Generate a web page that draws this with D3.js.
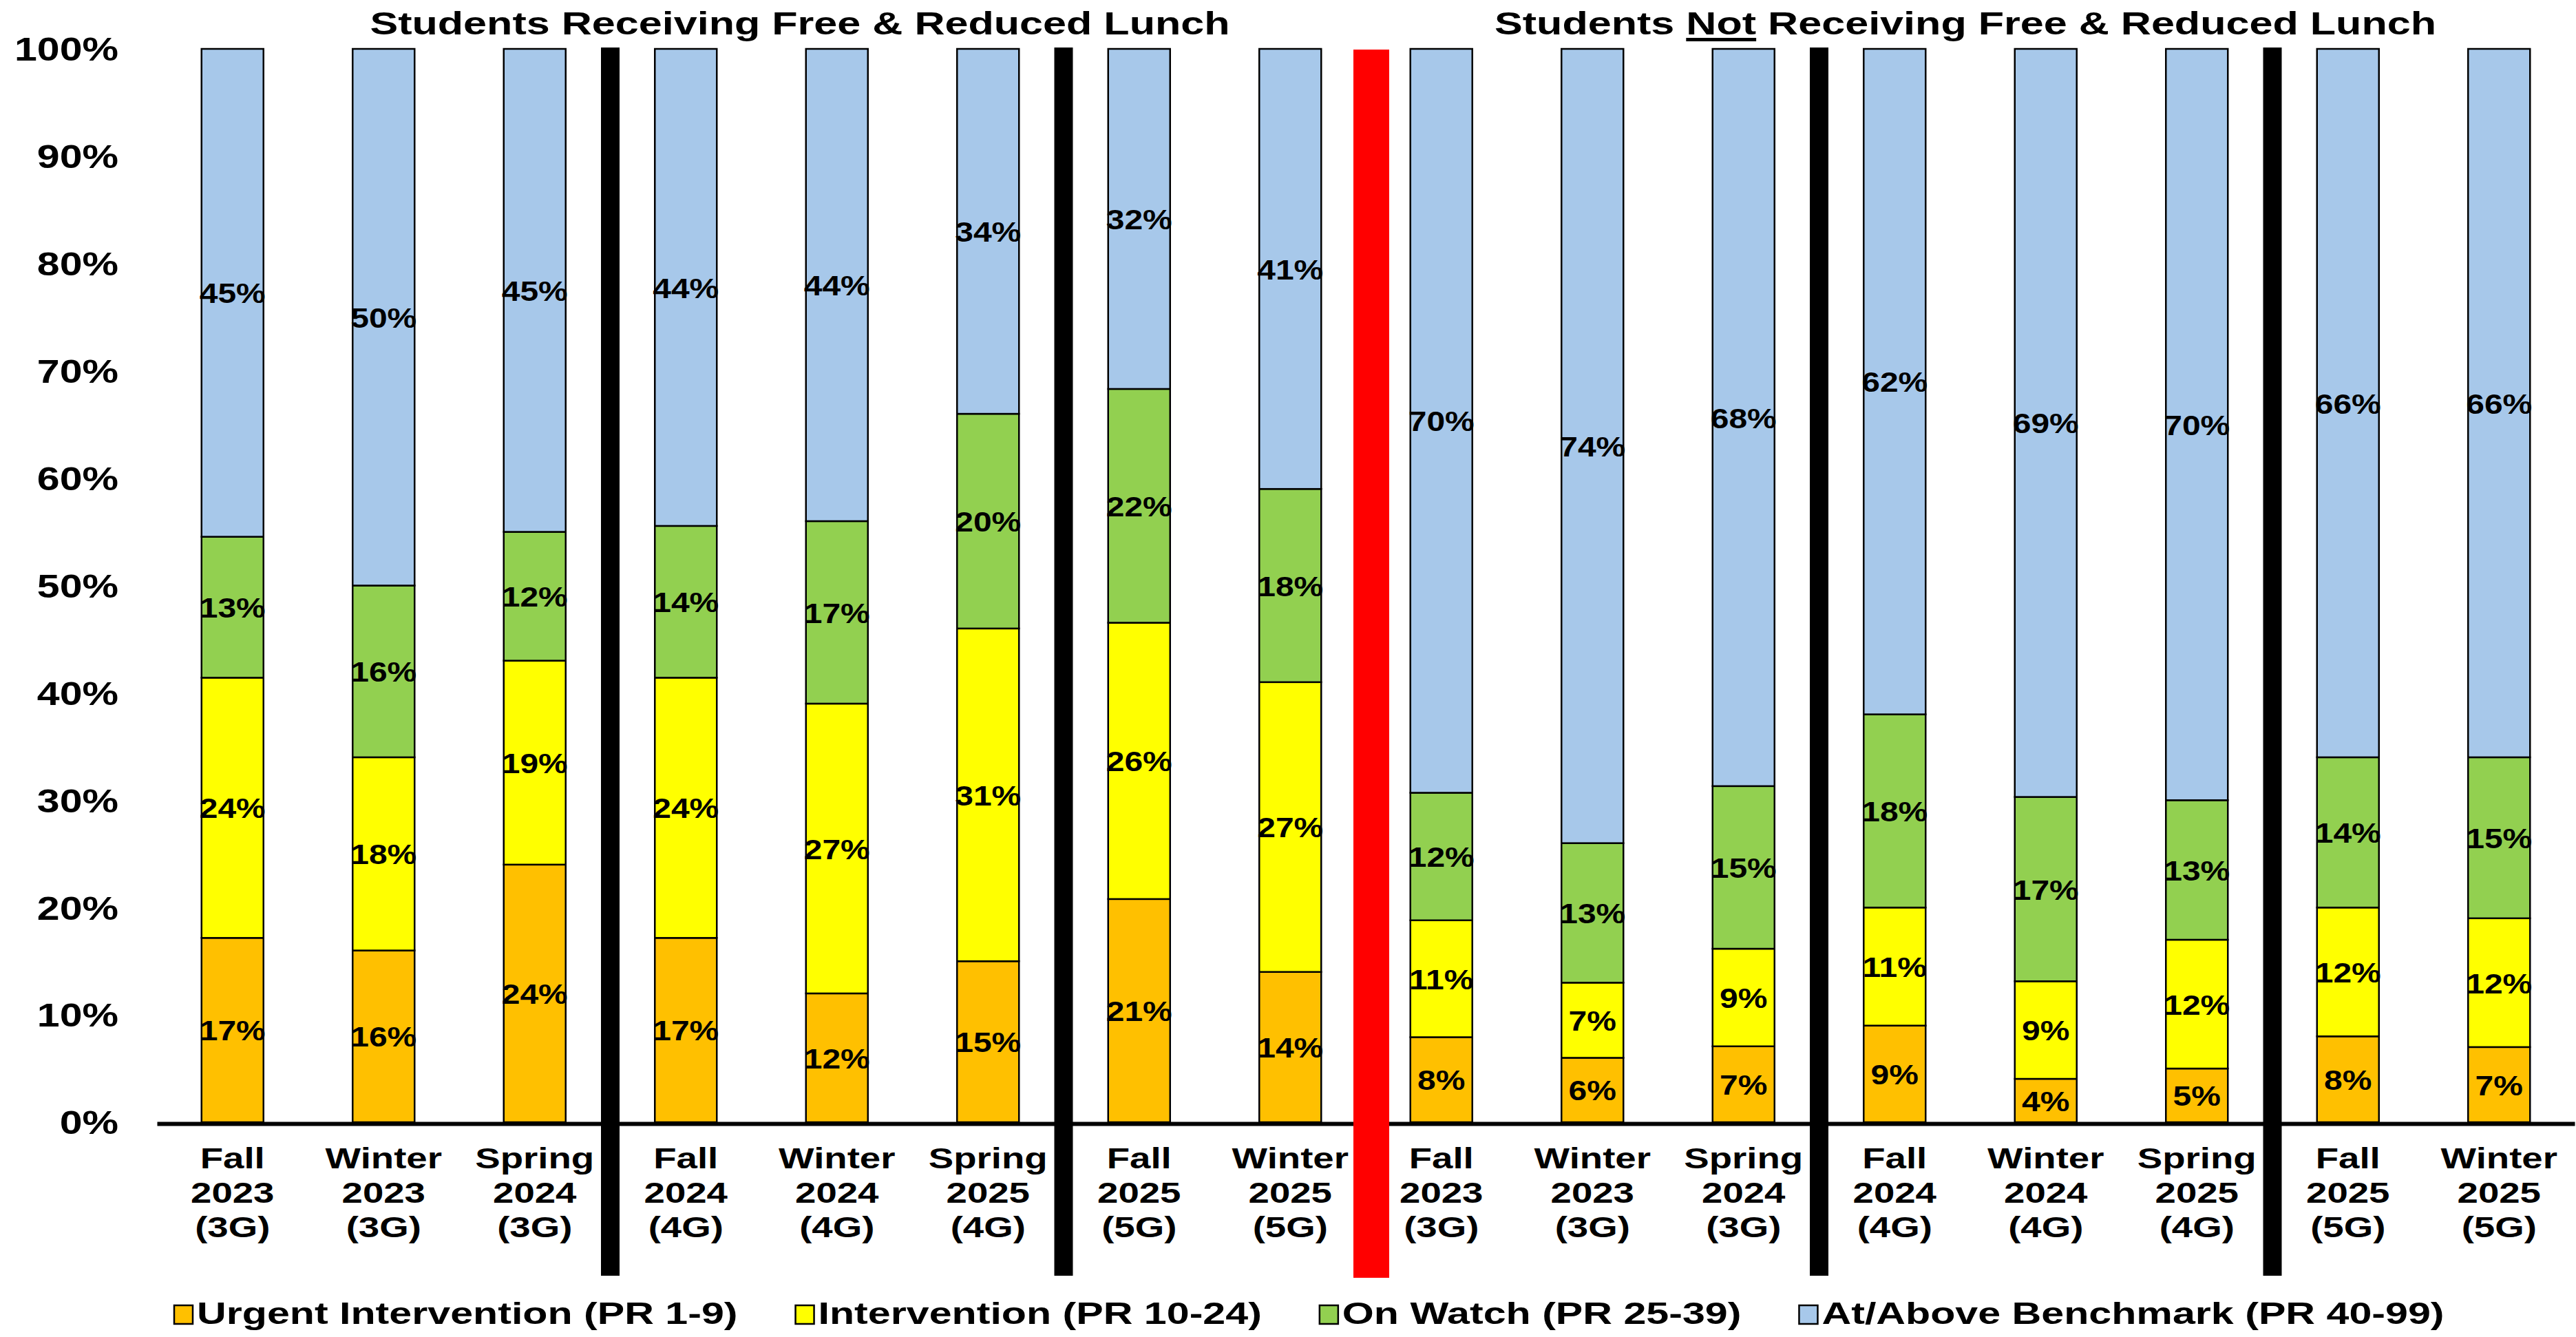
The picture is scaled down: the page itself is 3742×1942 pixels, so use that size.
<!DOCTYPE html>
<html>
<head>
<meta charset="utf-8">
<script src="https://cdn.jsdelivr.net/npm/d3@7"></script>
<style>
  html, body { margin: 0; padding: 0; background: #ffffff; }
  svg { display: block; }
  text { font-family: "Liberation Sans", Arial, Helvetica, sans-serif; font-weight: bold; fill: #000; }
</style>
</head>
<body>
<svg id="chart" width="3742" height="1942"></svg>
<script>
// ---------------- DATA ----------------
const groupTitlesBefore = ["Students Receiving Free & Reduced Lunch", "Students "];
const groupTitleNot = "Not";
const groupTitleAfter = " Receiving Free & Reduced Lunch";
const groups = ["Receiving", "NotReceiving"];
const seasons = ["Fall", "Winter", "Spring", "Fall", "Winter", "Spring", "Fall", "Winter"];
const years   = ["2023", "2023", "2024", "2024", "2024", "2025", "2025", "2025"];
const grades  = ["(3G)", "(3G)", "(3G)", "(4G)", "(4G)", "(4G)", "(5G)", "(5G)"];

// values per category (8 receiving, then 8 not receiving)
const urgent       = [17, 16, 24, 17, 12, 15, 21, 14,   8,  6,  7,  9,  4,  5,  8,  7];
const intervention = [24, 18, 19, 24, 27, 31, 26, 27,  11,  7,  9, 11,  9, 12, 12, 12];
const onWatch      = [13, 16, 12, 14, 17, 20, 22, 18,  12, 13, 15, 18, 17, 13, 14, 15];
const atAbove      = [45, 50, 45, 44, 44, 34, 32, 41,  70, 74, 68, 62, 69, 70, 66, 66];

const seriesKeys  = ["urgent", "intervention", "onWatch", "atAbove"];
const seriesNames = ["Urgent Intervention (PR 1-9)", "Intervention (PR 10-24)", "On Watch (PR 25-39)", "At/Above Benchmark (PR 40-99)"];
const yTickValues = [0, 10, 20, 30, 40, 50, 60, 70, 80, 90, 100];

// separators: index of the category after which a divider is drawn
const blackDividersAfter = [2, 5, 10, 13];
const redDividersAfter   = [7];

// ---------------- STYLE ----------------
const seriesColors = ["#FFC000", "#FFFF00", "#92D050", "#A7C8EA"];

// ---------------- BUILD ----------------
const categories = groups.flatMap(g => seasons.map((s, i) => `${g}|${s} ${years[i]} ${grades[i]}`));
const valueArrays = { urgent, intervention, onWatch, atAbove };
const rows = categories.map((c, i) => {
  const r = { cat: c, idx: i };
  seriesKeys.forEach(k => r[k] = valueArrays[k][i]);
  return r;
});

const stacked = d3.stack().keys(seriesKeys).offset(d3.stackOffsetExpand)(rows);

const svg = d3.select("#chart");
svg.append("rect").attr("width", 3742).attr("height", 1942).attr("fill", "#fff");

const x = d3.scaleBand().domain(categories).range([228, 3740]).paddingInner(0.59).paddingOuter(0.295);
const y = d3.scaleLinear().domain([0, 1]).range([1630, 71]);
const bw = x.bandwidth();

// Bars
const layers = svg.append("g").selectAll("g").data(stacked).join("g")
  .attr("fill", (d, i) => seriesColors[i]);
layers.selectAll("rect").data(d => d).join("rect")
  .attr("x", d => x(d.data.cat))
  .attr("y", d => y(d[1]))
  .attr("width", bw)
  .attr("height", d => y(d[0]) - y(d[1]))
  .attr("stroke", "#000")
  .attr("stroke-width", 2.5);

// Data labels
const LK = 1.17;
stacked.forEach((layer, li) => {
  svg.append("g").selectAll("text").data(layer).join("text")
    .attr("transform", d => `translate(${x(d.data.cat) + bw / 2},${(y(d[0]) + y(d[1])) / 2}) scale(${LK},1)`)
    .attr("text-anchor", "middle")
    .attr("dy", "0.37em")
    .attr("font-size", 41)
    .text(d => d.data[seriesKeys[li]] + "%");
});

// X axis
const XK = 1.3;
const xAxis = svg.append("g").attr("transform", "translate(0,1632)")
  .call(d3.axisBottom(x).tickSize(0).tickSizeOuter(0).tickFormat(() => ""));
xAxis.select(".domain").attr("stroke", "#000").attr("stroke-width", 6);
xAxis.selectAll(".tick text").each(function(d) {
  const i = categories.indexOf(d) % 8;
  const t = d3.select(this).attr("y", null).attr("dy", null)
    .attr("font-size", 42).attr("fill", "#000")
    .attr("transform", `scale(${XK},1)`);
  [seasons[i], years[i], grades[i]].forEach((s, j) => {
    t.append("tspan").attr("x", 0).attr("y", 65 + 50 * j).text(s);
  });
});

// Y axis
const YK = 1.23;
const yAxis = svg.append("g").attr("transform", "translate(228,0)")
  .call(d3.axisLeft(y).tickValues(yTickValues.map(v => v / 100)).tickSize(0)
    .tickFormat(d => Math.round(d * 100) + "%"));
yAxis.select(".domain").remove();
yAxis.selectAll(".tick text")
  .attr("x", 0).attr("dy", "0.35em")
  .attr("font-size", 48).attr("fill", "#000")
  .attr("transform", `translate(-56,0) scale(${YK},1)`);

// Dividers
function dividerX(a) {
  return (x(categories[a]) + bw + x(categories[a + 1])) / 2;
}
blackDividersAfter.forEach(a => {
  svg.append("rect").attr("x", dividerX(a) - 13.5).attr("y", 69).attr("width", 27).attr("height", 1784).attr("fill", "#000");
});
redDividersAfter.forEach(a => {
  svg.append("rect").attr("x", dividerX(a) - 26 + 8).attr("y", 72).attr("width", 52).attr("height", 1784).attr("fill", "#FF0000");
});

// Titles
const TK = 1.30;
const t1 = svg.append("g").attr("transform", `translate(1162,50) scale(${TK},1)`);
t1.append("text").attr("text-anchor", "middle").attr("font-size", 47).text(groupTitlesBefore[0]);

const t2 = svg.append("g").attr("transform", `translate(2855,50) scale(${TK},1)`);
const t2text = t2.append("text").attr("text-anchor", "middle").attr("font-size", 47);
t2text.append("tspan").text(groupTitlesBefore[1]);
t2text.append("tspan").text(groupTitleNot);
t2text.append("tspan").text(groupTitleAfter);
{
  const node = t2text.node();
  const s = groupTitlesBefore[1].length;
  const e = s + groupTitleNot.length - 1;
  const x0 = node.getStartPositionOfChar(s).x;
  const x1 = node.getEndPositionOfChar(e).x;
  t2.append("rect").attr("x", x0).attr("y", 5).attr("width", x1 - x0).attr("height", 5).attr("fill", "#000");
}

// Legend
const GK = 1.345;
let lx = 253;
seriesNames.forEach((name, i) => {
  svg.append("rect").attr("x", lx).attr("y", 1896).attr("width", 27).attr("height", 27)
    .attr("fill", seriesColors[i]).attr("stroke", "#000").attr("stroke-width", 2.5);
  const tx = lx + 33;
  const txt = svg.append("text").attr("font-size", 44)
    .attr("transform", `translate(${tx},1923) scale(${GK},1)`).text(name);
  const w = txt.node().getComputedTextLength() * GK;
  lx = tx + w + 84;
});
</script>
</body>
</html>
